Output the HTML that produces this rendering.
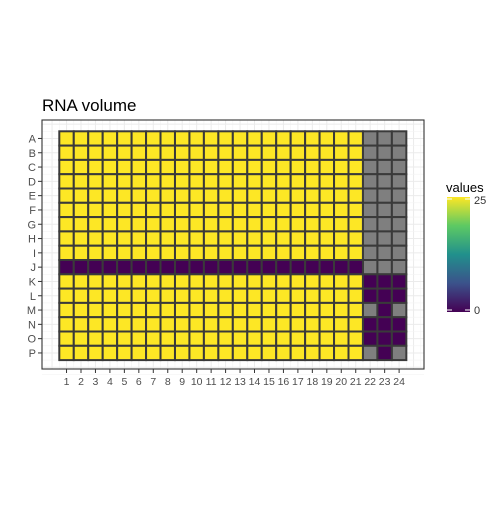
<!DOCTYPE html>
<html><head><meta charset="utf-8"><style>
body{margin:0;background:#fff;}
svg text{font-family:"Liberation Sans",sans-serif;}
</style></head><body>
<svg id="c" width="504" height="504" xmlns="http://www.w3.org/2000/svg">
<defs><linearGradient id="vir" x1="0" y1="1" x2="0" y2="0">
<stop offset="0" stop-color="#440154"/><stop offset="0.25" stop-color="#3b528b"/><stop offset="0.5" stop-color="#21908c"/><stop offset="0.75" stop-color="#5dc963"/><stop offset="1" stop-color="#fde725"/></linearGradient></defs>
<text x="42" y="111" font-size="17" fill="#000">RNA volume</text>
<g id="grid"></g><g id="tiles"></g><g id="axes"></g>
<rect x="42" y="120" width="382" height="249" fill="none" stroke="#333" stroke-width="1.1"/>
<g>
<text x="446" y="192" font-size="13" fill="#000">values</text>
<rect x="447" y="197" width="23" height="115" fill="url(#vir)"/>
<line x1="447" y1="199" x2="452" y2="199" stroke="#fff"/><line x1="465" y1="199" x2="470" y2="199" stroke="#fff"/>
<line x1="447" y1="310" x2="452" y2="310" stroke="#fff"/><line x1="465" y1="310" x2="470" y2="310" stroke="#fff"/>
<text x="474" y="204" font-size="11" fill="#333">25</text>
<text x="474" y="314" font-size="11" fill="#333">0</text>
</g>
</svg>
<script>
const rows=["A","B","C","D","E","F","G","H","I","J","K","L","M","N","O","P"];
const cols=["1","2","3","4","5","6","7","8","9","10","11","12","13","14","15","16","17","18","19","20","21","22","23","24"];
// value per row for cols 1-21, then cols 22-24 (null = NA)
const mainVals=[25,25,25,25,25,25,25,25,25,0,25,25,25,25,25,25];
const tailVals=[
[null,null,null],[null,null,null],[null,null,null],[null,null,null],[null,null,null],
[null,null,null],[null,null,null],[null,null,null],[null,null,null],[null,null,null],
[0,0,0],[0,0,0],[null,0,null],[0,0,0],[0,0,0],[null,0,null]];
const vmin=0,vmax=25;
const NS="http://www.w3.org/2000/svg";
const x0=59.3,cw=14.46,y0=131.3,rh=14.3;
const xs=i=>x0+cw*(i+0.5), ys=j=>y0+rh*(j+0.5);
function col(v){if(v===null)return"#7f7f7f";const t=(v-vmin)/(vmax-vmin);
const st=[[68,1,84],[59,82,139],[33,144,140],[93,201,99],[253,231,37]];
const p=t*4,k=Math.min(3,Math.floor(p)),f=p-k;
return"rgb("+st[k].map((a,n)=>Math.round(a+(st[k+1][n]-a)*f)).join(",")+")";}
function mk(tag,a,parent){const e=document.createElementNS(NS,tag);for(const k in a)e.setAttribute(k,a[k]);parent.appendChild(e);return e;}
const g=document.getElementById("grid"),tg=document.getElementById("tiles"),ax=document.getElementById("axes");
for(let i=-1;i<=cols.length;i++){
 const l=mk("line",{x1:xs(i),x2:xs(i),y1:120,y2:369,stroke:"#ebebeb","stroke-width":1},g);
 
 const m=mk("line",{x1:xs(i)+cw/2,x2:xs(i)+cw/2,y1:120,y2:369,stroke:"#f3f3f3","stroke-width":0.6},g);
 }
for(let j=-1;j<=rows.length;j++){
 const l=mk("line",{x1:42,x2:424,y1:ys(j),y2:ys(j),stroke:"#ebebeb","stroke-width":1},g);
 
 const m=mk("line",{x1:42,x2:424,y1:ys(j)+rh/2,y2:ys(j)+rh/2,stroke:"#f3f3f3","stroke-width":0.6},g);
 }
rows.forEach((r,j)=>{cols.forEach((c,i)=>{
 const v=i<21?mainVals[j]:tailVals[j][i-21];
 const t=mk("rect",{x:xs(i)-cw/2,y:ys(j)-rh/2,width:cw,height:rh,fill:col(v),stroke:"#3a3a3a","stroke-width":2},tg);
 });
 const tk=mk("line",{x1:38,x2:42,y1:ys(j),y2:ys(j),stroke:"#333"},ax);
 
 const tx=mk("text",{x:36,y:ys(j)+4,"font-size":11,fill:"#4d4d4d","text-anchor":"end"},ax);tx.textContent=r;
 });
cols.forEach((c,i)=>{
 const tk=mk("line",{x1:xs(i),x2:xs(i),y1:369,y2:373,stroke:"#333"},ax);
 
 const tx=mk("text",{x:xs(i),y:385,"font-size":10.5,fill:"#4d4d4d","text-anchor":"middle"},ax);tx.textContent=c;
 });
</script>
</body></html>
